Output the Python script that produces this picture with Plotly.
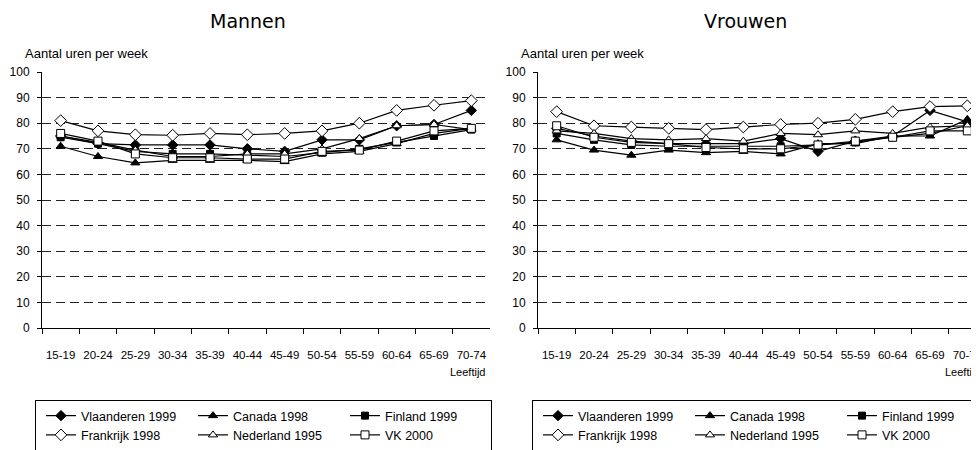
import plotly.graph_objects as go

categories = ["15-19", "20-24", "25-29", "30-34", "35-39", "40-44",
              "45-49", "50-54", "55-59", "60-64", "65-69", "70-74"]
y_ticks = [0, 10, 20, 30, 40, 50, 60, 70, 80, 90, 100]

series_names = ["Vlaanderen 1999", "Canada 1998", "Finland 1999",
                "Frankrijk 1998", "Nederland 1995", "VK 2000"]

# Mannen
vlaanderen_m = [75, 72, 71.5, 71.5, 71.5, 70, 69, 73.5, 73.5, 79, 79.5, 85]
canada_m = [71, 67, 64.5, 65.5, 65.5, 65.5, 65, 68, 69, 72, 76, 78]
finland_m = [74.5, 72, 69, 68, 68, 67.5, 67, 68.5, 70, 72.5, 75, 77.5]
frankrijk_m = [81, 77, 75.5, 75.3, 76, 75.5, 76, 77, 80, 85, 87, 88.8]
nederland_m = [75, 72.5, 69.5, 67, 67, 68, 68, 70, 74, 79, 79.5, 77.5]
vk_m = [76, 73, 68, 66.5, 66.5, 66, 66, 69, 69.5, 73, 77, 78]

# Vrouwen
vlaanderen_v = [78, 75, 73, 72, 72, 72, 74, 69, 73, 75, 85, 80.5]
canada_v = [73.5, 69.5, 67.5, 69.5, 68.5, 69, 68, 72, 72, 75, 75, 81.5]
finland_v = [76, 73.5, 71.5, 71, 71, 71, 71, 71.5, 72.5, 74.5, 76, 79]
frankrijk_v = [84.5, 79, 78.5, 78, 77.5, 78.5, 79.5, 80, 81.5, 84.5, 86.5, 86.8]
nederland_v = [77, 76, 74, 73.5, 74, 73, 76, 75.5, 77, 76, 78.5, 79]
vk_v = [79, 74.5, 72.5, 72, 70.5, 70, 70, 71.5, 73, 74.5, 77, 77]

mannen = [vlaanderen_m, canada_m, finland_m, frankrijk_m, nederland_m, vk_m]
vrouwen = [vlaanderen_v, canada_v, finland_v, frankrijk_v, nederland_v, vk_v]

# marker styles: (symbol, size, fill)
styles = [("diamond", 8, "black"), ("triangle-up", 8, "black"), ("square", 7, "black"),
          ("diamond", 9, "white"), ("triangle-up", 8, "white"), ("square", 8, "white")]
groups = ["a", "b", "c", "a", "b", "c"]

# page has an 8px body margin: figure occupies window pixels 8..979 x 8..450
OFF = 8
W, H = 979 - OFF, 450 - OFF
SANS = "Liberation Sans, Arial, sans-serif"

fig = go.Figure()

def add_series(data, xa, ya, legend, suffix):
    for name, vals, (sym, size, fill), g in zip(series_names, data, styles, groups):
        fig.add_trace(go.Scatter(
            x=categories, y=vals, name=name, mode="lines+markers",
            xaxis=xa, yaxis=ya, legend=legend, legendgroup=g + suffix,
            line=dict(color="black", width=1.2),
            marker=dict(symbol=sym, size=size, color=fill,
                        line=dict(color="black", width=1)),
        ))

add_series(mannen, "x", "y", "legend", "1")
add_series(vrouwen, "x2", "y2", "legend2", "2")

def px_x(p):  # window pixel -> paper fraction
    return (p - OFF) / W

def px_y(p):
    return (H - (p - OFF)) / H

ydom = [px_y(328), px_y(72)]
step = (490 - 42) / 12.0

xcommon = dict(type="category", categoryorder="array", categoryarray=categories,
               showline=True, linecolor="black", linewidth=1,
               ticks="outside", ticklen=5, tickcolor="black", tickson="boundaries",
               showgrid=False, zeroline=False, fixedrange=True, tickangle=0,
               tickfont=dict(family=SANS, size=11.5, color="black"),
               ticklabelstandoff=16)
ycommon = dict(range=[0, 100], tickvals=y_ticks, showline=True, linecolor="black",
               linewidth=1, ticks="outside", ticklen=4, tickcolor="black",
               showgrid=True, gridcolor="#222222", gridwidth=1, griddash="9px,5px",
               zeroline=False, fixedrange=True,
               tickfont=dict(family=SANS, size=12, color="black"),
               ticklabelstandoff=5)

legend_common = dict(orientation="h", xanchor="left", y=px_y(400), yanchor="top",
                     bgcolor="white", bordercolor="black", borderwidth=1,
                     font=dict(family=SANS, size=12.5, color="black"),
                     entrywidth=101, entrywidthmode="pixels", indentation=6,
                     tracegroupgap=0, itemclick=False, itemdoubleclick=False)

fig.update_layout(
    width=W, height=H,
    margin=dict(l=0, r=0, t=0, b=0, autoexpand=False),
    paper_bgcolor="white", plot_bgcolor="white",
    showlegend=True,
    xaxis=dict(domain=[px_x(42), px_x(490)], range=[-0.5, 11.5], anchor="y", **xcommon),
    yaxis=dict(domain=ydom, anchor="x", **ycommon),
    xaxis2=dict(domain=[px_x(538), 1.0], range=[-0.5, -0.5 + (979 - 538) / step],
                anchor="y2", **xcommon),
    yaxis2=dict(domain=ydom, anchor="x2", **ycommon),
    legend=dict(x=px_x(35), **legend_common),
    legend2=dict(x=px_x(532), **legend_common),
)

TITLE_FONT = dict(family="DejaVu Sans, Verdana, sans-serif", size=19, color="black")
annotations = [
    dict(text="Mannen", x=px_x(248), y=px_y(21), xanchor="center", yanchor="middle",
         font=TITLE_FONT),
    dict(text="Vrouwen", x=px_x(745), y=px_y(21), xanchor="center", yanchor="middle",
         font=TITLE_FONT),
    dict(text="Aantal uren per week", x=px_x(23), y=px_y(54), xanchor="left", yanchor="middle",
         font=dict(family=SANS, size=13, color="black")),
    dict(text="Aantal uren per week", x=px_x(519), y=px_y(54), xanchor="left", yanchor="middle",
         font=dict(family=SANS, size=13, color="black")),
    dict(text="Leeftijd", x=px_x(487), y=px_y(372), xanchor="right", yanchor="middle",
         font=dict(family=SANS, size=11, color="black")),
    dict(text="Leeftijd", x=px_x(982), y=px_y(372), xanchor="right", yanchor="middle",
         font=dict(family=SANS, size=11, color="black")),
]
for a in annotations:
    a.update(xref="paper", yref="paper", showarrow=False)
fig.update_layout(annotations=annotations)

fig.write_html("out.html", config={"displayModeBar": False})
